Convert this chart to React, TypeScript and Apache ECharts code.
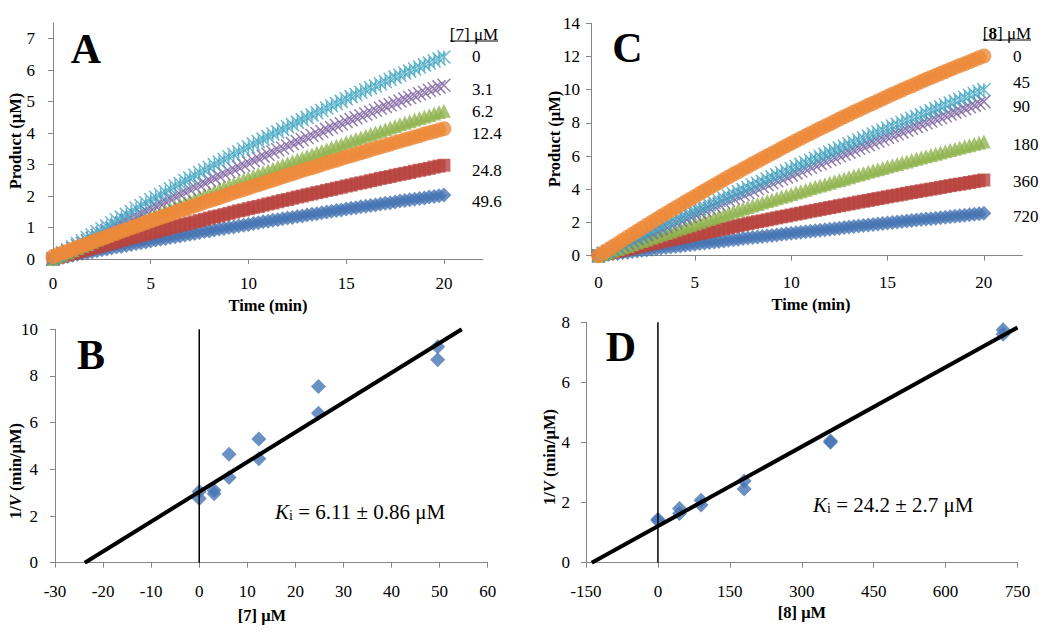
import React, { useEffect, useRef } from 'react';
import * as echarts from 'echarts';

// ---------- DATA ----------
const TIME = [
  0, 0.25, 0.5, 0.75, 1, 1.25, 1.5, 1.75, 2, 2.25,
  2.5, 2.75, 3, 3.25, 3.5, 3.75, 4, 4.25, 4.5, 4.75,
  5, 5.25, 5.5, 5.75, 6, 6.25, 6.5, 6.75, 7, 7.25,
  7.5, 7.75, 8, 8.25, 8.5, 8.75, 9, 9.25, 9.5, 9.75,
  10, 10.25, 10.5, 10.75, 11, 11.25, 11.5, 11.75, 12, 12.25,
  12.5, 12.75, 13, 13.25, 13.5, 13.75, 14, 14.25, 14.5, 14.75,
  15, 15.25, 15.5, 15.75, 16, 16.25, 16.5, 16.75, 17, 17.25,
  17.5, 17.75, 18, 18.25, 18.5, 18.75, 19, 19.25, 19.5, 19.75,
  20,
];

// Panel A: [7] = 0, 3.1, 6.2, 12.4, 24.8, 49.6 uM
const A_0 = [
  0, 0.10, 0.20, 0.29, 0.39, 0.49, 0.58, 0.68, 0.77, 0.87,
  0.96, 1.05, 1.15, 1.24, 1.33, 1.42, 1.51, 1.61, 1.70, 1.79,
  1.88, 1.96, 2.05, 2.14, 2.23, 2.32, 2.40, 2.49, 2.57, 2.66,
  2.75, 2.83, 2.91, 3.00, 3.08, 3.16, 3.25, 3.33, 3.41, 3.49,
  3.57, 3.65, 3.73, 3.81, 3.89, 3.97, 4.04, 4.12, 4.20, 4.27,
  4.35, 4.43, 4.50, 4.58, 4.65, 4.72, 4.80, 4.87, 4.94, 5.01,
  5.09, 5.16, 5.23, 5.30, 5.37, 5.44, 5.50, 5.57, 5.64, 5.71,
  5.78, 5.84, 5.91, 5.97, 6.04, 6.10, 6.17, 6.23, 6.29, 6.36,
  6.42,
];
const A_3_1 = [
  0, 0.08, 0.17, 0.25, 0.33, 0.42, 0.50, 0.58, 0.66, 0.74,
  0.82, 0.90, 0.98, 1.06, 1.14, 1.22, 1.30, 1.37, 1.45, 1.53,
  1.61, 1.68, 1.76, 1.83, 1.91, 1.98, 2.06, 2.13, 2.21, 2.28,
  2.35, 2.42, 2.50, 2.57, 2.64, 2.71, 2.78, 2.85, 2.92, 2.99,
  3.06, 3.13, 3.20, 3.27, 3.33, 3.40, 3.47, 3.53, 3.60, 3.67,
  3.73, 3.80, 3.86, 3.93, 3.99, 4.05, 4.12, 4.18, 4.24, 4.30,
  4.37, 4.43, 4.49, 4.55, 4.61, 4.67, 4.73, 4.79, 4.85, 4.90,
  4.96, 5.02, 5.08, 5.13, 5.19, 5.25, 5.30, 5.36, 5.41, 5.47,
  5.52,
];
const A_6_2 = [
  0, 0.07, 0.14, 0.21, 0.28, 0.35, 0.42, 0.48, 0.55, 0.62,
  0.69, 0.75, 0.82, 0.89, 0.95, 1.02, 1.08, 1.15, 1.22, 1.28,
  1.35, 1.41, 1.47, 1.54, 1.60, 1.66, 1.73, 1.79, 1.85, 1.91,
  1.98, 2.04, 2.10, 2.16, 2.22, 2.28, 2.34, 2.40, 2.46, 2.52,
  2.58, 2.64, 2.70, 2.76, 2.81, 2.87, 2.93, 2.99, 3.04, 3.10,
  3.16, 3.21, 3.27, 3.32, 3.38, 3.43, 3.49, 3.54, 3.60, 3.65,
  3.71, 3.76, 3.81, 3.86, 3.92, 3.97, 4.02, 4.07, 4.12, 4.18,
  4.23, 4.28, 4.33, 4.38, 4.43, 4.48, 4.53, 4.57, 4.62, 4.67,
  4.71,
];
const A_12_4 = [
  0.08, 0.14, 0.20, 0.25, 0.31, 0.37, 0.43, 0.48, 0.54, 0.60,
  0.65, 0.71, 0.77, 0.82, 0.88, 0.93, 0.99, 1.04, 1.10, 1.15,
  1.21, 1.26, 1.32, 1.37, 1.42, 1.48, 1.53, 1.58, 1.64, 1.69,
  1.74, 1.80, 1.85, 1.90, 1.95, 2.00, 2.06, 2.11, 2.16, 2.21,
  2.26, 2.31, 2.36, 2.41, 2.46, 2.51, 2.56, 2.61, 2.66, 2.71,
  2.76, 2.81, 2.86, 2.90, 2.95, 3.00, 3.05, 3.10, 3.14, 3.19,
  3.24, 3.28, 3.33, 3.38, 3.42, 3.47, 3.52, 3.56, 3.61, 3.65,
  3.70, 3.74, 3.79, 3.83, 3.88, 3.92, 3.97, 4.01, 4.05, 4.10,
  4.14,
];
const A_24_8 = [
  0, 0.04, 0.09, 0.13, 0.17, 0.21, 0.25, 0.30, 0.34, 0.38,
  0.42, 0.46, 0.50, 0.54, 0.59, 0.63, 0.67, 0.71, 0.75, 0.79,
  0.83, 0.87, 0.91, 0.95, 0.99, 1.03, 1.07, 1.10, 1.14, 1.18,
  1.22, 1.26, 1.30, 1.34, 1.37, 1.41, 1.45, 1.49, 1.53, 1.56,
  1.60, 1.64, 1.67, 1.71, 1.75, 1.78, 1.82, 1.86, 1.89, 1.93,
  1.97, 2.00, 2.04, 2.07, 2.11, 2.14, 2.18, 2.21, 2.25, 2.28,
  2.32, 2.35, 2.39, 2.42, 2.45, 2.49, 2.52, 2.56, 2.59, 2.62,
  2.66, 2.69, 2.72, 2.75, 2.79, 2.82, 2.85, 2.88, 2.92, 2.95,
  2.98,
];
const A_49_6 = [
  0, 0.03, 0.06, 0.09, 0.12, 0.15, 0.18, 0.20, 0.23, 0.26,
  0.29, 0.32, 0.35, 0.38, 0.40, 0.43, 0.46, 0.49, 0.52, 0.54,
  0.57, 0.60, 0.63, 0.65, 0.68, 0.71, 0.73, 0.76, 0.79, 0.81,
  0.84, 0.87, 0.89, 0.92, 0.95, 0.97, 1.00, 1.02, 1.05, 1.07,
  1.10, 1.13, 1.15, 1.18, 1.20, 1.23, 1.25, 1.28, 1.30, 1.32,
  1.35, 1.37, 1.40, 1.42, 1.44, 1.47, 1.49, 1.52, 1.54, 1.56,
  1.59, 1.61, 1.63, 1.66, 1.68, 1.70, 1.72, 1.75, 1.77, 1.79,
  1.81, 1.84, 1.86, 1.88, 1.90, 1.92, 1.94, 1.97, 1.99, 2.01,
  2.03,
];

// Panel C: [8] = 0, 45, 90, 180, 360, 720 uM
const C_0 = [
  0, 0.19, 0.37, 0.56, 0.74, 0.93, 1.11, 1.29, 1.47, 1.65,
  1.83, 2.01, 2.19, 2.37, 2.54, 2.72, 2.89, 3.06, 3.23, 3.40,
  3.57, 3.74, 3.91, 4.08, 4.24, 4.41, 4.57, 4.74, 4.90, 5.06,
  5.22, 5.38, 5.54, 5.69, 5.85, 6.01, 6.16, 6.31, 6.47, 6.62,
  6.77, 6.92, 7.07, 7.22, 7.36, 7.51, 7.66, 7.80, 7.94, 8.09,
  8.23, 8.37, 8.51, 8.65, 8.78, 8.92, 9.06, 9.19, 9.32, 9.46,
  9.59, 9.72, 9.85, 9.98, 10.11, 10.23, 10.36, 10.49, 10.61, 10.73,
  10.86, 10.98, 11.10, 11.22, 11.34, 11.46, 11.57, 11.69, 11.80, 11.92,
  12.03,
];
const C_45 = [
  0, 0.14, 0.27, 0.41, 0.55, 0.68, 0.82, 0.95, 1.09, 1.22,
  1.36, 1.49, 1.63, 1.76, 1.89, 2.03, 2.16, 2.29, 2.42, 2.56,
  2.69, 2.82, 2.95, 3.08, 3.21, 3.34, 3.47, 3.60, 3.73, 3.86,
  3.98, 4.11, 4.24, 4.37, 4.49, 4.62, 4.75, 4.87, 5.00, 5.12,
  5.25, 5.37, 5.50, 5.62, 5.75, 5.87, 5.99, 6.12, 6.24, 6.36,
  6.48, 6.61, 6.73, 6.85, 6.97, 7.09, 7.21, 7.33, 7.45, 7.57,
  7.69, 7.81, 7.92, 8.04, 8.16, 8.28, 8.39, 8.51, 8.63, 8.74,
  8.86, 8.97, 9.09, 9.20, 9.32, 9.43, 9.55, 9.66, 9.77, 9.89,
  10.0,
];
const C_90 = [
  0, 0.13, 0.25, 0.38, 0.51, 0.63, 0.76, 0.89, 1.01, 1.14,
  1.26, 1.39, 1.51, 1.63, 1.76, 1.88, 2.00, 2.13, 2.25, 2.37,
  2.49, 2.61, 2.74, 2.86, 2.98, 3.10, 3.22, 3.34, 3.46, 3.58,
  3.70, 3.81, 3.93, 4.05, 4.17, 4.29, 4.40, 4.52, 4.64, 4.75,
  4.87, 4.99, 5.10, 5.22, 5.33, 5.45, 5.56, 5.67, 5.79, 5.90,
  6.02, 6.13, 6.24, 6.35, 6.47, 6.58, 6.69, 6.80, 6.91, 7.02,
  7.13, 7.24, 7.35, 7.46, 7.57, 7.68, 7.79, 7.90, 8.01, 8.11,
  8.22, 8.33, 8.43, 8.54, 8.65, 8.75, 8.86, 8.97, 9.07, 9.18,
  9.28,
];
const C_180 = [
  0, 0.10, 0.20, 0.30, 0.40, 0.50, 0.59, 0.69, 0.79, 0.89,
  0.98, 1.08, 1.17, 1.27, 1.37, 1.46, 1.56, 1.65, 1.74, 1.84,
  1.93, 2.02, 2.12, 2.21, 2.30, 2.39, 2.48, 2.57, 2.66, 2.75,
  2.84, 2.93, 3.02, 3.11, 3.20, 3.29, 3.37, 3.46, 3.55, 3.63,
  3.72, 3.81, 3.89, 3.98, 4.06, 4.15, 4.23, 4.31, 4.40, 4.48,
  4.56, 4.64, 4.73, 4.81, 4.89, 4.97, 5.05, 5.13, 5.21, 5.29,
  5.37, 5.45, 5.53, 5.61, 5.68, 5.76, 5.84, 5.91, 5.99, 6.07,
  6.14, 6.22, 6.29, 6.37, 6.44, 6.52, 6.59, 6.66, 6.74, 6.81,
  6.88,
];
const C_360 = [
  0, 0.07, 0.13, 0.20, 0.26, 0.32, 0.39, 0.45, 0.52, 0.58,
  0.64, 0.71, 0.77, 0.83, 0.90, 0.96, 1.02, 1.08, 1.14, 1.21,
  1.27, 1.33, 1.39, 1.45, 1.51, 1.57, 1.63, 1.69, 1.75, 1.81,
  1.87, 1.93, 1.99, 2.05, 2.10, 2.16, 2.22, 2.28, 2.34, 2.39,
  2.45, 2.51, 2.56, 2.62, 2.68, 2.73, 2.79, 2.84, 2.90, 2.95,
  3.01, 3.06, 3.12, 3.17, 3.23, 3.28, 3.33, 3.39, 3.44, 3.49,
  3.55, 3.60, 3.65, 3.70, 3.76, 3.81, 3.86, 3.91, 3.96, 4.01,
  4.06, 4.11, 4.17, 4.22, 4.27, 4.31, 4.36, 4.41, 4.46, 4.51,
  4.56,
];
const C_720 = [
  0, 0.04, 0.07, 0.11, 0.14, 0.18, 0.21, 0.25, 0.28, 0.32,
  0.35, 0.39, 0.42, 0.46, 0.49, 0.52, 0.56, 0.59, 0.63, 0.66,
  0.69, 0.73, 0.76, 0.79, 0.83, 0.86, 0.89, 0.93, 0.96, 0.99,
  1.03, 1.06, 1.09, 1.12, 1.16, 1.19, 1.22, 1.25, 1.29, 1.32,
  1.35, 1.38, 1.41, 1.45, 1.48, 1.51, 1.54, 1.57, 1.60, 1.63,
  1.66, 1.70, 1.73, 1.76, 1.79, 1.82, 1.85, 1.88, 1.91, 1.94,
  1.97, 2.00, 2.03, 2.06, 2.09, 2.12, 2.15, 2.18, 2.21, 2.23,
  2.26, 2.29, 2.32, 2.35, 2.38, 2.41, 2.44, 2.47, 2.49, 2.52,
  2.55,
];

// Panel B: Dixon plot for [7]
const B_CONC = [0, 0, 3.1, 3.1, 6.2, 6.2, 12.4, 12.4, 24.8, 24.8, 49.6, 49.6];
const B_INV_V = [3.05, 2.75, 3.1, 2.95, 4.65, 3.65, 5.3, 4.45, 7.55, 6.4, 9.25, 8.7];
const B_FIT_X = [-23.8, 54.6];
const B_FIT_Y = [0, 10];

// Panel D: Dixon plot for [8]
const D_CONC = [0, 0, 45, 45, 90, 90, 180, 180, 360, 360, 720, 720];
const D_INV_V = [1.45, 1.40, 1.80, 1.64, 2.08, 1.92, 2.72, 2.45, 4.05, 4.01, 7.75, 7.6];
const D_FIT_X = [-138, 750];
const D_FIT_Y = [0, 7.83];

// tick labels
const A_X_TICKS = [0, 5, 10, 15, 20];
const A_Y_TICKS = [0, 1, 2, 3, 4, 5, 6, 7];
const C_X_TICKS = [0, 5, 10, 15, 20];
const C_Y_TICKS = [0, 2, 4, 6, 8, 10, 12, 14];
const B_X_TICKS = [-30, -20, -10, 0, 10, 20, 30, 40, 50, 60];
const B_Y_TICKS = [0, 2, 4, 6, 8, 10];
const D_X_TICKS = [-150, 0, 150, 300, 450, 600, 750];
const D_Y_TICKS = [0, 2, 4, 6, 8];

const A_LEGEND = ['0', '3.1', '6.2', '12.4', '24.8', '49.6'];
const C_LEGEND = ['0', '45', '90', '180', '360', '720'];

// ---------- STYLE ----------
const SERIF = 'Liberation Serif';
const GRAY = '#868686';
const COL = {
  blue: '#4674B3',
  red: '#B8433F',
  green: '#91B450',
  purple: '#7B5E9E',
  cyan: '#43A6C2',
  orange: '#EE8A3A',
};
const X_SYM = 'path://M0,0L10,10M10,0L0,10';
const STAR_SYM = 'path://M0,0L10,10M10,0L0,10M5,0L5,10';

function axis(gridIndex: number, min: number, max: number, ticks: number[], margin: number) {
  return {
    type: 'value',
    gridIndex,
    min,
    max,
    axisLine: { show: true, onZero: false, lineStyle: { color: GRAY, width: 1 } },
    axisTick: { show: true, inside: false, length: 5, customValues: ticks, lineStyle: { color: GRAY, width: 1 } },
    axisLabel: {
      show: true,
      customValues: ticks,
      margin,
      color: '#000',
      fontFamily: SERIF,
      fontSize: 17,
      formatter: (v: number) => String(v),
    },
    splitLine: { show: false },
  };
}

function kin(idx: number, vals: number[], symbol: string, size: number, color: string, stroke = false) {
  return {
    type: 'scatter',
    xAxisIndex: idx,
    yAxisIndex: idx,
    data: TIME.map((t, i) => [t, vals[i]]),
    symbol,
    symbolSize: size,
    silent: true,
    itemStyle: stroke
      ? { color, borderColor: color, borderWidth: 1.5 }
      : { color, borderWidth: 0 },
  };
}

function pairs(xs: number[], ys: number[]) {
  return xs.map((x, i) => [x, ys[i]]);
}

function txt(text: string, x: number, y: number, o: any = {}) {
  const { rotation, ...style } = o;
  return {
    type: 'text',
    x,
    y,
    rotation: rotation || 0,
    silent: true,
    style: {
      text,
      fill: '#000',
      fontFamily: SERIF,
      fontSize: 16.5,
      align: 'center',
      verticalAlign: 'middle',
      textAlign: 'center',
      textVerticalAlign: 'middle',
      ...style,
    },
  };
}

function uline(x1: number, x2: number, y: number) {
  return { type: 'line', silent: true, shape: { x1, y1: y, x2, y2: y }, style: { stroke: '#000', lineWidth: 1 } };
}

function buildOption() {
  const aLegendY = [56, 89, 111, 133, 170, 201];
  const cLegendY = [56, 82.5, 106, 144.5, 181.7, 216];
  const rot = Math.PI / 2;
  const invV = {
    text: '{a|1/}{v|V}{a| (min/μM)}',
    rich: {
      a: { fontFamily: SERIF, fontSize: 16.5, fontWeight: 'bold' },
      v: { fontFamily: SERIF, fontSize: 16.5, fontWeight: 'bold', fontStyle: 'italic' },
    },
  };
  const kiRich = {
    k: { fontFamily: SERIF, fontSize: 21, fontStyle: 'italic' },
    s: { fontFamily: SERIF, fontSize: 14, lineHeight: 10, verticalAlign: 'bottom' },
    n: { fontFamily: SERIF, fontSize: 21 },
  };

  const graphic: any[] = [
    txt('A', 86, 49, { fontSize: 42, fontWeight: 'bold' }),
    txt('C', 627.5, 48, { fontSize: 42, fontWeight: 'bold' }),
    txt('B', 91, 355, { fontSize: 42, fontWeight: 'bold' }),
    txt('D', 621, 347, { fontSize: 42, fontWeight: 'bold' }),
    txt('Product (μM)', 15, 141, { fontWeight: 'bold', rotation: rot }),
    txt('Time (min)', 268, 305, { fontWeight: 'bold' }),
    txt('Product (μM)', 554, 139, { fontWeight: 'bold', rotation: rot }),
    txt('Time (min)', 811, 304, { fontWeight: 'bold' }),
    txt('', 15, 471, { ...invV, rotation: rot }),
    txt('[7] μM', 262, 615, { fontWeight: 'bold' }),
    txt('', 549, 457, { ...invV, rotation: rot }),
    txt('[8] μM', 802, 612, { fontWeight: 'bold' }),
    txt('{k|K}{s|i}{n| = 6.11 ± 0.86 μM}', 275, 512, { align: 'left', textAlign: 'left', rich: kiRich }),
    txt('{k|K}{s|i}{n| = 24.2 ± 2.7 μM}', 813, 505, { align: 'left', textAlign: 'left', rich: kiRich }),
    txt('[7] μM', 474, 34, { fontSize: 17 }),
    uline(450, 498, 41),
    txt('{a|[}{b|8}{a|] μM}', 1007, 33, {
      rich: {
        a: { fontFamily: SERIF, fontSize: 17 },
        b: { fontFamily: SERIF, fontSize: 17, fontWeight: 'bold' },
      },
    }),
    uline(983, 1031, 40),
  ];
  A_LEGEND.forEach((s, i) => graphic.push(txt(s, 472, aLegendY[i], { fontSize: 17, align: 'left', textAlign: 'left' })));
  C_LEGEND.forEach((s, i) => graphic.push(txt(s, 1013, cLegendY[i], { fontSize: 17, align: 'left', textAlign: 'left' })));

  return {
    animation: false,
    backgroundColor: '#fff',
    textStyle: { fontFamily: SERIF },
    grid: [
      { left: 53, top: 23, width: 430, height: 236, containLabel: false, outerBoundsMode: 'none' },
      { left: 591, top: 23.3, width: 431.4, height: 232.4, containLabel: false, outerBoundsMode: 'none' },
      { left: 55, top: 329.3, width: 432.7, height: 233.4, containLabel: false, outerBoundsMode: 'none' },
      { left: 586, top: 322.3, width: 431.5, height: 240.4, containLabel: false, outerBoundsMode: 'none' },
    ],
    xAxis: [
      axis(0, 0, 22, A_X_TICKS, 16),
      axis(1, -0.39, 22, C_X_TICKS, 18),
      axis(2, -30, 60, B_X_TICKS, 20),
      axis(3, -150, 750, D_X_TICKS, 20),
    ],
    yAxis: [
      axis(0, 0, 7.5, A_Y_TICKS, 18),
      axis(1, 0, 14, C_Y_TICKS, 11),
      axis(2, 0, 10, B_Y_TICKS, 17),
      axis(3, 0, 8, D_Y_TICKS, 16),
    ],
    graphic,
    series: [
      // A
      kin(0, A_49_6, 'diamond', 15, COL.blue),
      kin(0, A_24_8, 'rect', 13, COL.red),
      kin(0, A_6_2, 'triangle', 14, COL.green),
      kin(0, A_3_1, X_SYM, 13, COL.purple, true),
      kin(0, A_0, STAR_SYM, 13, COL.cyan, true),
      kin(0, A_12_4, 'circle', 15, COL.orange),
      // C
      kin(1, C_720, 'diamond', 15, COL.blue),
      kin(1, C_360, 'rect', 13, COL.red),
      kin(1, C_180, 'triangle', 14, COL.green),
      kin(1, C_90, X_SYM, 13, COL.purple, true),
      kin(1, C_45, STAR_SYM, 13, COL.cyan, true),
      kin(1, C_0, 'circle', 15, COL.orange),
      // B
      {
        type: 'line', xAxisIndex: 2, yAxisIndex: 2, data: [[0, 0], [0, 10]],
        showSymbol: false, symbol: 'none', silent: true, lineStyle: { color: '#000', width: 1.5 },
      },
      {
        type: 'line', xAxisIndex: 2, yAxisIndex: 2, data: pairs(B_FIT_X, B_FIT_Y),
        showSymbol: false, symbol: 'none', silent: true, lineStyle: { color: '#000', width: 4 },
      },
      {
        type: 'scatter', xAxisIndex: 2, yAxisIndex: 2, data: pairs(B_CONC, B_INV_V),
        symbol: 'diamond', symbolSize: 15, silent: true, itemStyle: { color: COL.blue },
      },
      // D
      {
        type: 'line', xAxisIndex: 3, yAxisIndex: 3, data: [[0, 0], [0, 8]],
        showSymbol: false, symbol: 'none', silent: true, lineStyle: { color: '#000', width: 1.5 },
      },
      {
        type: 'line', xAxisIndex: 3, yAxisIndex: 3, data: pairs(D_FIT_X, D_FIT_Y),
        showSymbol: false, symbol: 'none', silent: true, lineStyle: { color: '#000', width: 4 },
      },
      {
        type: 'scatter', xAxisIndex: 3, yAxisIndex: 3, data: pairs(D_CONC, D_INV_V),
        symbol: 'diamond', symbolSize: 15, silent: true, itemStyle: { color: COL.blue },
      },
    ],
  };
}

export default function App() {
  const ref = useRef<HTMLDivElement>(null);
  useEffect(() => {
    const chart = echarts.init(ref.current as HTMLDivElement, null, { renderer: 'svg' });
    chart.setOption(buildOption() as any);
    return () => chart.dispose();
  }, []);
  return (
    <div
      ref={ref}
      style={{ position: 'fixed', left: 0, top: 0, width: 1050, height: 642, background: '#fff' }}
    />
  );
}
